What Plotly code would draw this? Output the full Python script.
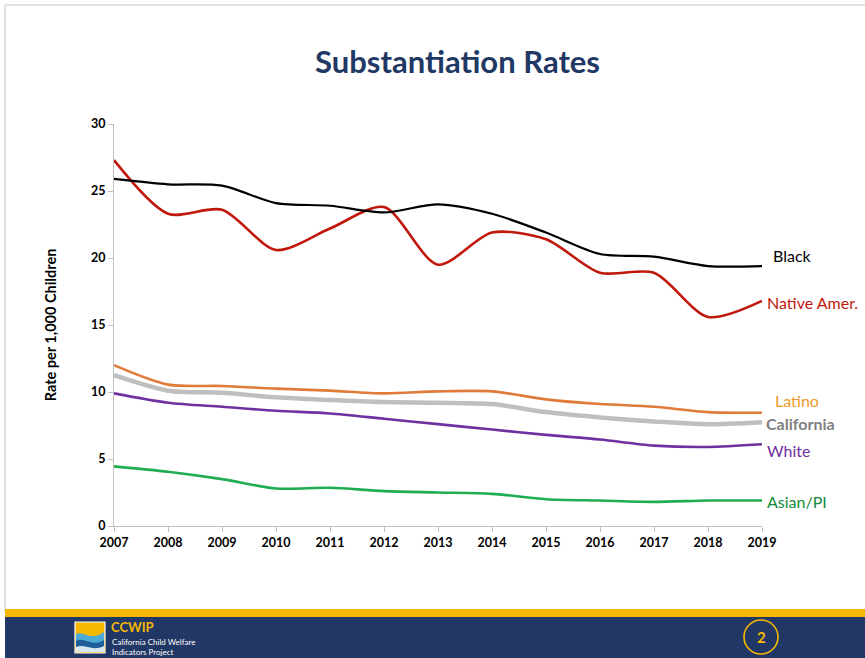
import plotly.graph_objects as go

# Substantiation rates per 1,000 children, California, by race/ethnicity
years = [2007, 2008, 2009, 2010, 2011, 2012, 2013, 2014, 2015, 2016, 2017, 2018, 2019]
black = [25.9, 25.5, 25.4, 24.1, 23.9, 23.4, 24.0, 23.3, 21.9, 20.3, 20.1, 19.4, 19.4]
native_amer = [27.3, 23.3, 23.6, 20.6, 22.2, 23.8, 19.5, 21.9, 21.4, 18.9, 18.9, 15.6, 16.8]
latino = [12.0, 10.55, 10.45, 10.25, 10.1, 9.9, 10.05, 10.05, 9.45, 9.1, 8.9, 8.5, 8.45]
california = [11.25, 10.1, 9.95, 9.6, 9.4, 9.25, 9.2, 9.1, 8.5, 8.1, 7.8, 7.6, 7.75]
white = [9.9, 9.2, 8.9, 8.6, 8.4, 8.0, 7.6, 7.2, 6.8, 6.45, 6.0, 5.9, 6.1]
asian_pi = [4.45, 4.05, 3.5, 2.8, 2.85, 2.6, 2.5, 2.4, 2.0, 1.9, 1.8, 1.9, 1.9]
y_ticks = [0, 5, 10, 15, 20, 25, 30]

W, H = 865, 658
L, R, T, B = 114, 762, 124, 526  # plot area in pixels


def px(x):
    return (x - L) / (R - L)


def py(y):
    return (B - y) / (B - T)


series = [
    ("California", california, "#BFBFBF", 4.5),
    ("Latino", latino, "#E07B39", 2.6),
    ("White", white, "#7030A0", 2.6),
    ("Asian/PI", asian_pi, "#1EAD4F", 2.6),
    ("Native Amer.", native_amer, "#C0180C", 2.6),
    ("Black", black, "#000000", 2.2),
]

fig = go.Figure()
for name, vals, color, width in series:
    fig.add_trace(go.Scatter(
        x=years, y=vals, name=name, mode="lines",
        line=dict(color=color, width=width, shape="spline", smoothing=0.8),
        showlegend=False, hoverinfo="x+y+name",
    ))

# Series labels at the right end of each line
labels = [
    ("Black", "#000000", 771, 255),
    ("Native Amer.", "#C0180C", 765, 302),
    ("Latino", "#EC9A2A", 773, 400),
    ("California", "#7F7F7F", 764, 423),
    ("White", "#7030A0", 765, 450),
    ("Asian/PI", "#138A3E", 765, 501),
]
annotations = []
for text, color, x, y in labels:
    annotations.append(dict(
        text=text, xref="paper", yref="paper", x=px(x), y=py(y),
        xanchor="left", yanchor="middle", showarrow=False,
        font=dict(family="Lato", size=16, color=color,
                  weight="bold" if text == "California" else "normal"),
    ))

# Title
annotations.append(dict(
    text="<b>Substantiation Rates</b>", xref="paper", yref="paper",
    x=px(457), y=py(61), xanchor="center", yanchor="middle", showarrow=False,
    font=dict(family="Lato", size=31, color="#1F3864"),
))

# Footer text
annotations += [
    dict(text="<b>CCWIP</b>", xref="paper", yref="paper", x=px(109), y=py(627),
         xanchor="left", yanchor="middle", showarrow=False,
         font=dict(family="Lato", size=13, color="#F5B800")),
    dict(text="California Child Welfare<br>Indicators Project", xref="paper", yref="paper",
         x=px(110), y=py(635), xanchor="left", yanchor="top", showarrow=False,
         align="left", font=dict(family="Lato", size=8, color="#FFFFFF")),
    dict(text="<b>2</b>", xref="paper", yref="paper", x=px(761), y=py(637),
         xanchor="center", yanchor="middle", showarrow=False,
         font=dict(family="Lato", size=15, color="#F5B800")),
]

shapes = [
    # slide border
    dict(type="line", xref="paper", yref="paper", x0=px(5), x1=px(870), y0=py(5), y1=py(5),
         line=dict(color="#D9D9D9", width=1.5), layer="below"),
    dict(type="line", xref="paper", yref="paper", x0=px(5), x1=px(5), y0=py(5), y1=py(612),
         line=dict(color="#D9D9D9", width=1.5), layer="below"),
    # footer bands
    dict(type="rect", xref="paper", yref="paper", x0=px(5), x1=px(870), y0=py(609), y1=py(618),
         fillcolor="#F5B800", line=dict(width=0)),
    dict(type="rect", xref="paper", yref="paper", x0=px(5), x1=px(870), y0=py(617), y1=py(662),
         fillcolor="#213765", line=dict(width=0)),
    # logo
    dict(type="rect", xref="paper", yref="paper", x0=px(75), x1=px(105), y0=py(622), y1=py(653),
         fillcolor="#F5B800", line=dict(color="#FFFFFF", width=1.2)),
    dict(type="path", xref="paper", yref="paper",
         path=f"M {px(76)},{py(634)} C {px(84)},{py(630)} {px(90)},{py(642)} {px(104)},{py(632)} "
              f"L {px(104)},{py(652)} L {px(76)},{py(652)} Z",
         fillcolor="#4DA9D6", line=dict(width=0)),
    dict(type="path", xref="paper", yref="paper",
         path=f"M {px(76)},{py(641)} C {px(84)},{py(636)} {px(92)},{py(648)} {px(104)},{py(640)} "
              f"L {px(104)},{py(652)} L {px(76)},{py(652)} Z",
         fillcolor="#1F5F99", line=dict(width=0)),
    dict(type="path", xref="paper", yref="paper",
         path=f"M {px(76)},{py(647)} C {px(84)},{py(643)} {px(92)},{py(652)} {px(104)},{py(646)} "
              f"L {px(104)},{py(652)} L {px(76)},{py(652)} Z",
         fillcolor="#D8E6F0", line=dict(width=0)),
    # page number circle
    dict(type="circle", xref="paper", yref="paper", x0=px(744), x1=px(778), y0=py(620), y1=py(654),
         line=dict(color="#F5B800", width=1.6)),
]

fig.update_layout(
    width=W, height=H,
    margin=dict(l=L, r=W - R, t=T, b=H - B),
    paper_bgcolor="white", plot_bgcolor="white",
    font=dict(family="Lato", color="#000000"),
    annotations=annotations, shapes=shapes,
    xaxis=dict(
        range=[years[0], years[-1]], tickmode="array", tickvals=years,
        ticktext=[f"<b>{y}</b>" for y in years],
        showgrid=False, zeroline=False, showline=True, linecolor="#BFBFBF", linewidth=1,
        ticks="outside", ticklen=5, tickcolor="#BFBFBF",
        tickfont=dict(family="Lato", size=12.5, color="#000000"),
    ),
    yaxis=dict(
        range=[0, 30], tickmode="array", tickvals=y_ticks,
        ticktext=[f"<b>{v}</b>" for v in y_ticks],
        showgrid=False, zeroline=False, showline=True, linecolor="#BFBFBF", linewidth=1,
        ticks="outside", ticklen=5, tickcolor="#BFBFBF",
        tickfont=dict(family="Lato", size=12.5, color="#000000"),
        title=dict(text="<b>Rate per 1,000 Children</b>", standoff=30,
                   font=dict(family="Lato", size=14.5, color="#000000")),
    ),
)

fig.write_html("out.html")
